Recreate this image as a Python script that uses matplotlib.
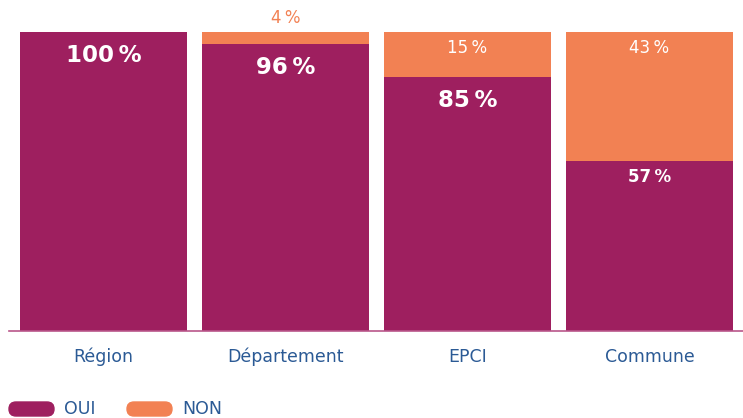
import matplotlib.pyplot as plt
from matplotlib.patches import FancyBboxPatch
import numpy as np

categories = ['Région', 'Département', 'EPCI', 'Commune']
oui = [100, 96, 85, 57]
non = [0, 4, 15, 43]

c_oui = '#9e1f5f'
c_non = '#f28153'
c_txt = '#2b5a95'

W, H = 743, 418
fig = plt.figure(figsize=(W / 100, H / 100), dpi=100)
ax = fig.add_axes([9 / W, 87 / H, 734 / W, 299 / H])

x = np.arange(len(categories))
ax.bar(x, oui, width=0.918, color=c_oui)
ax.bar(x, non, width=0.918, bottom=oui, color=c_non)
ax.set_xlim(-0.519, 3.514)
ax.set_ylim(0, 100)

for s in ['top', 'right', 'left']:
    ax.spines[s].set_visible(False)
ax.spines['bottom'].set_color('#b9568a')
ax.spines['bottom'].set_linewidth(1.2)
ax.set_yticks([])
ax.set_xticks(x)
ax.set_xticklabels(categories, fontsize=12.5, color=c_txt, family='DejaVu Sans')
ax.tick_params(axis='x', length=0, pad=12)

# OUI labels
for i, v in enumerate(oui):
    big = v >= 60
    ax.annotate(f'{v}\u2009%', (i, v), xytext=(0, -17 if big else -11.5),
                textcoords='offset points', ha='center', va='center',
                color='white', fontweight='bold', fontsize=16.5 if big else 12)

# NON labels
for i, v in enumerate(non):
    if v == 0:
        continue
    if v < 8:
        ax.annotate(f'{v}\u2009%', (i, oui[i] + v), xytext=(0, 10),
                    textcoords='offset points', ha='center', va='center',
                    color=c_non, fontsize=12, annotation_clip=False)
    else:
        ax.annotate(f'{v}\u2009%', (i, 100), xytext=(0, -11.5),
                    textcoords='offset points', ha='center', va='center',
                    color='white', fontsize=12)

# legend pills, drawn on a pixel-space overlay
lg = fig.add_axes([0, 0, 1, 1], zorder=-1)
lg.set_xlim(0, W)
lg.set_ylim(H, 0)
lg.axis('off')
for x0, col, lab in [(9, c_oui, 'OUI'), (127, c_non, 'NON')]:
    lg.add_patch(FancyBboxPatch((x0, 402), 45, 14,
                                boxstyle='round,pad=0,rounding_size=7',
                                color=col))
    lg.text(x0 + 55, 409, lab, color=c_txt, fontsize=12.5, va='center', ha='left')

fig.savefig('out.png', dpi=100)
